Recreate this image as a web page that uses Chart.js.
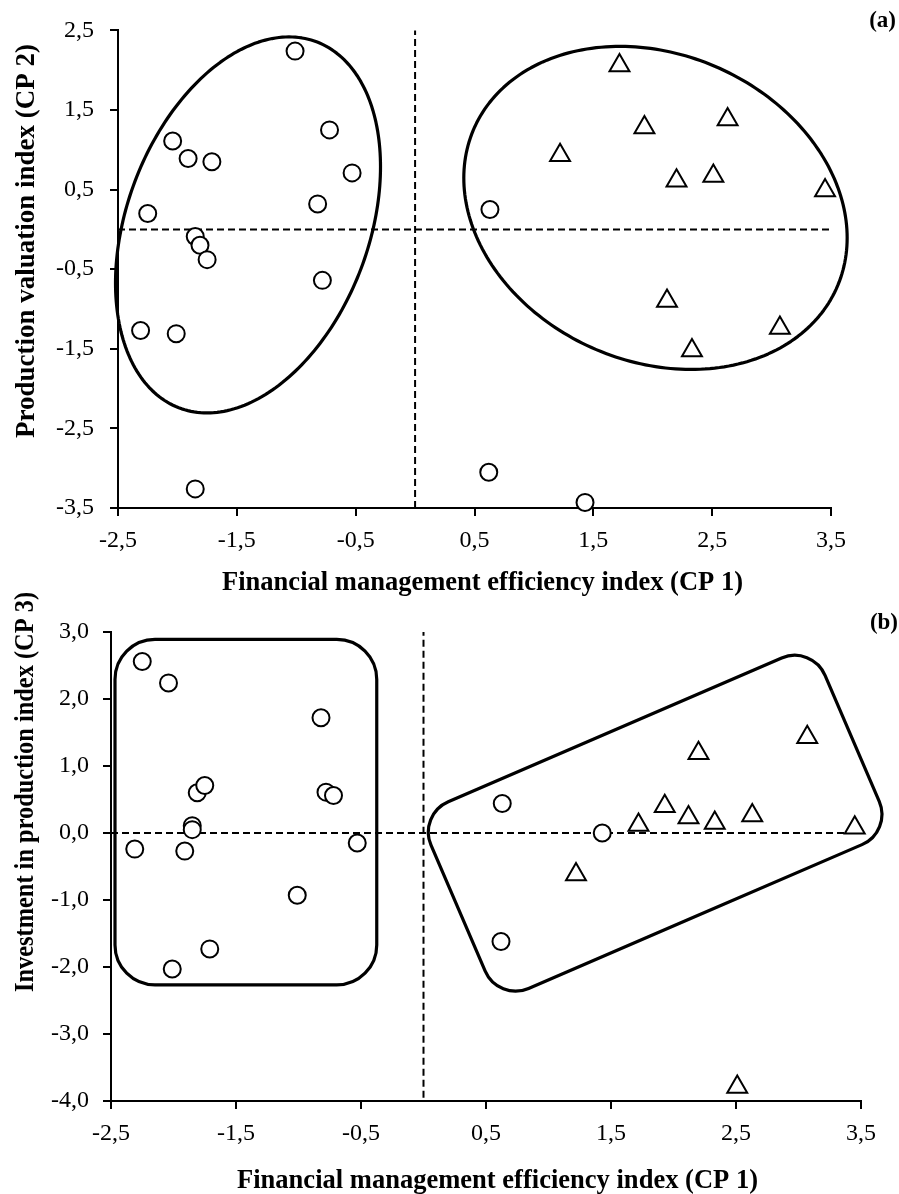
<!DOCTYPE html>
<html><head><meta charset="utf-8">
<script src="https://cdn.jsdelivr.net/npm/chart.js@4/dist/chart.umd.min.js"></script>
<style>
html,body{margin:0;padding:0;background:#fff;}
#wrap{position:relative;width:899px;height:1194px;background:#fff;}
.box{position:absolute;left:0;width:899px;}
canvas{display:block;}
</style></head><body>
<div id="wrap">
<div class="box" style="top:0;height:600px"><canvas id="ca" width="899" height="600"></canvas></div>
<div class="box" style="top:560px;height:634px"><canvas id="cb" width="899" height="634"></canvas></div>
</div>
<script>
// ---- data ----
const circleCP1 = [-2.31,-2.25,-2.04,-2.01,-1.91,-1.85,-1.85,-1.81,-1.75,-1.71,-1.01,-0.82,-0.78,-0.72,-0.53,0.62,0.63,1.43];
const circleCP2 = [-1.27,0.20,1.11,-1.31,0.89,-0.09,-3.26,-0.20,-0.38,0.85,2.24,0.32,-0.64,1.25,0.71,-3.05,0.25,-3.43];
const circleCP3 = [-0.24,2.56,2.24,-2.03,-0.27,0.11,0.05,0.60,0.71,-1.73,-0.93,1.72,0.61,0.56,-0.15,-1.62,0.44,0.00];
const triCP1 = [1.22,1.72,1.93,2.12,2.20,2.33,2.51,2.63,3.07,3.45];
const triCP2 = [0.93,2.06,1.28,-0.90,0.61,-1.52,0.67,1.38,-1.24,0.49];
const triCP3 = [-0.62,0.12,0.40,0.23,1.19,0.15,-3.79,0.26,1.43,0.08];
const xTickLabels  = ['-2,5','-1,5','-0,5','0,5','1,5','2,5','3,5'];
const yTickLabelsA = ['-3,5','-2,5','-1,5','-0,5','0,5','1,5','2,5'];
const yTickLabelsB = ['-4,0','-3,0','-2,0','-1,0','0,0','1,0','2,0','3,0'];
const xTitle = 'Financial management efficiency index (CP 1)';
const yTitleA = 'Production valuation index (CP 2)';
const yTitleB = 'Investment in production index (CP 3)';

const SERIF = '"Liberation Serif", "Times New Roman", serif';

const shapePlugin = {
  id: 'shapes',
  beforeDatasetsDraw(chart, args, opts) {
    const ctx = chart.ctx, xs = chart.scales.x, ys = chart.scales.y;
    const px = (a, b) => [xs.getPixelForValue(a), ys.getPixelForValue(b)];
    ctx.save();
    ctx.strokeStyle = '#000';
    ctx.lineWidth = opts.lineWidth || 3;
    ctx.lineJoin = 'round';
    (opts.ellipses || []).forEach(e => {
      ctx.beginPath();
      for (let i = 0; i <= 240; i++) {
        const t = i / 240 * 2 * Math.PI;
        const p = px(e.c[0] + e.u[0] * Math.cos(t) + e.v[0] * Math.sin(t),
                     e.c[1] + e.u[1] * Math.cos(t) + e.v[1] * Math.sin(t));
        if (i) ctx.lineTo(p[0], p[1]); else ctx.moveTo(p[0], p[1]);
      }
      ctx.closePath();
      ctx.stroke();
    });
    (opts.boxes || []).forEach(b => {
      const cs = [[1,1],[1,-1],[-1,-1],[-1,1]].map(([s,t]) =>
        px(b.c[0] + s*b.l[0] + t*b.w[0], b.c[1] + s*b.l[1] + t*b.w[1]));
      ctx.beginPath();
      const m = [(cs[3][0]+cs[0][0])/2, (cs[3][1]+cs[0][1])/2];
      ctx.moveTo(m[0], m[1]);
      for (let i = 0; i < 4; i++) {
        const p = cs[i], q = cs[(i+1)%4];
        ctx.arcTo(p[0], p[1], q[0], q[1], b.r);
      }
      ctx.closePath();
      ctx.stroke();
    });
    ctx.restore();
  },
  afterDraw(chart, args, opts) {
    const ctx = chart.ctx;
    ctx.save();
    ctx.fillStyle = '#000';
    ctx.textBaseline = 'alphabetic';
    (opts.texts || []).forEach(t => {
      ctx.font = 'bold ' + t.size + 'px ' + SERIF;
      ctx.textAlign = t.align || 'left';
      ctx.save();
      ctx.translate(t.x, t.y);
      if (t.rot) ctx.rotate(-Math.PI / 2);
      if (t.w) ctx.fillText(t.text, 0, 0, t.w); else ctx.fillText(t.text, 0, 0);
      ctx.restore();
    });
    ctx.restore();
  }
};

function axis(min, max, labels, isX, fitSize, pad) {
  return {
    type: 'linear', min: min, max: max,
    ticks: {
      stepSize: 1, autoSkip: false, maxRotation: 0, minRotation: 0,
      color: '#000', padding: pad,
      font: { family: SERIF, size: 24 },
      callback: (v, i) => labels[i]
    },
    grid: { drawOnChartArea: false, drawTicks: true, tickLength: 8, color: '#000', lineWidth: 2 },
    border: { display: true, color: '#000', width: 2 },
    title: { display: false },
    afterFit: isX ? (s => { s.height = fitSize; }) : (s => { s.width = fitSize; })
  };
}

function pointSet(xs, ys, style, r) {
  return {
    data: xs.map((x, i) => ({ x: x, y: ys[i] })),
    pointStyle: style, pointRadius: r, pointHoverRadius: r,
    borderColor: '#000', backgroundColor: '#fff', pointBorderWidth: 2, borderWidth: 2,
    showLine: false, clip: false, order: 0
  };
}
function dashSet(pts) {
  return {
    data: pts, showLine: true, pointRadius: 0, borderColor: '#000', borderWidth: 2,
    borderDash: [7, 4], fill: false, clip: false, order: 5
  };
}

function makeChart(id, cfg) {
  return new Chart(document.getElementById(id), {
    type: 'scatter',
    data: { datasets: [
      dashSet(cfg.hLine), dashSet(cfg.vLine),
      pointSet(circleCP1, cfg.circY, 'circle', 8.5),
      pointSet(triCP1, cfg.triY, 'triangle', 11.5)
    ]},
    options: {
      responsive: false, animation: false, events: [],
      layout: { padding: cfg.padding },
      plugins: { legend: { display: false }, tooltip: { enabled: false },
        shapes: cfg.shapes },
      scales: { x: cfg.x, y: cfg.y }
    },
    plugins: [shapePlugin]
  });
}

// Chart (a)
makeChart('ca', {
  circY: circleCP2, triY: triCP2,
  hLine: [{x: -2.5, y: 0}, {x: 3.5, y: 0}],
  vLine: [{x: 0, y: -3.5}, {x: 0, y: 2.5}],
  padding: { left: 0, top: 29, right: 68, bottom: 0 },
  x: axis(-2.5, 3.5, xTickLabels, true, 92, 10),
  y: axis(-3.5, 2.5, yTickLabelsA, false, 118, 16),
  shapes: {
    lineWidth: 3.2,
    ellipses: [
      { c: [-1.406, 0.056], u: [1.115, 0.731], v: [0, 2.246] },
      { c: [2.023, 0.27], u: [1.613, -0.376], v: [0, 1.994] }
    ],
    texts: [
      { text: yTitleA, x: 34, y: 438, w: 398, rot: true, size: 27 },
      { text: xTitle, x: 222, y: 590, w: 521, size: 27 },
      { text: '(a)', x: 896, y: 27, size: 23, align: 'right' }
    ]
  }
});

// Chart (b) — canvas starts at page y = 560
makeChart('cb', {
  circY: circleCP3, triY: triCP3,
  hLine: [{x: -2.5, y: 0}, {x: 3.5, y: 0}],
  vLine: [{x: 0, y: -3.95}, {x: 0, y: 3.0}],
  padding: { left: 0, top: 72, right: 38, bottom: 0 },
  x: axis(-2.5, 3.5, xTickLabels, true, 93, 10),
  y: axis(-4, 3, yTickLabelsB, false, 111, 14),
  shapes: {
    lineWidth: 3.2,
    boxes: [
      { c: [-1.421, 0.311], l: [1.047, 0], w: [0, 2.578], r: 40 },
      { c: [1.853, 0.146], l: [1.576, 1.268], w: [0.321, -1.393], r: 33 }
    ],
    texts: [
      { text: yTitleB, x: 33, y: 432, w: 400, rot: true, size: 27 },
      { text: xTitle, x: 237, y: 628, w: 521, size: 27 },
      { text: '(b)', x: 898, y: 69, size: 23, align: 'right' }
    ]
  }
});
</script>
</body></html>
